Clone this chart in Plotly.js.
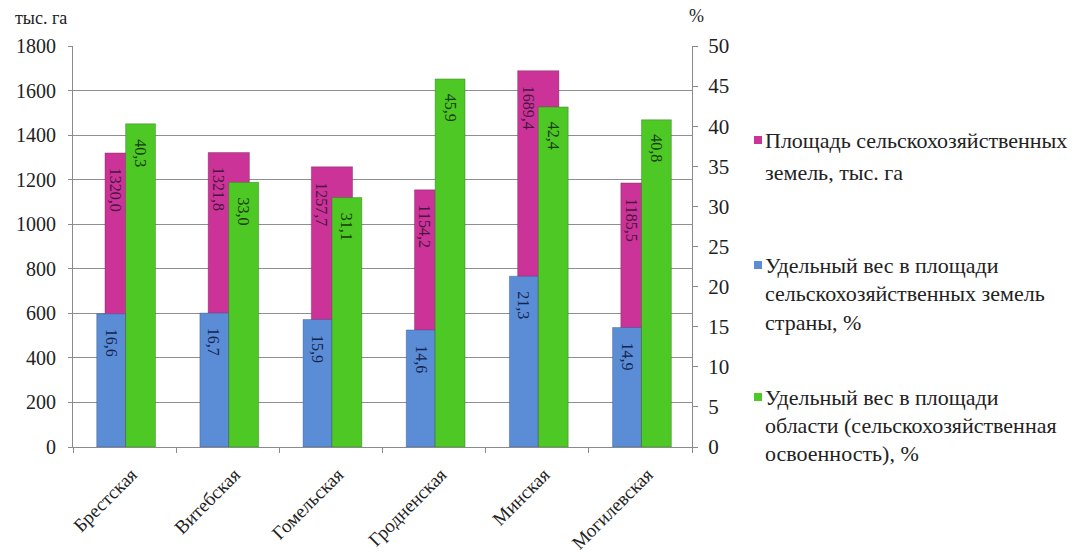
<!DOCTYPE html>
<html>
<head>
<meta charset="utf-8">
<script src="https://cdn.plot.ly/plotly-3.0.1.min.js"></script>
<style>
  html, body { margin: 0; padding: 0; background: #fff; }
  #chart { width: 1083px; height: 553px; }
</style>
</head>
<body>
<div id="chart"></div>
<script>
// Regions of Belarus
const categories = ['Брестская', 'Витебская', 'Гомельская', 'Гродненская', 'Минская', 'Могилевская'];
// Agricultural land area, thousand ha (left axis)
const areaThousandHa = [1320.0, 1321.8, 1257.7, 1154.2, 1689.4, 1185.5];
// Share of the country's agricultural land, % (right axis)
const shareCountryPct = [16.6, 16.7, 15.9, 14.6, 21.3, 14.9];
// Share of the region's area (agricultural development), % (right axis)
const shareRegionPct = [40.3, 33.0, 31.1, 45.9, 42.4, 40.8];

const leftTicks = [0, 200, 400, 600, 800, 1000, 1200, 1400, 1600, 1800];
const rightTicks = [0, 5, 10, 15, 20, 25, 30, 35, 40, 45, 50];

const legendLines = [
  ['Площадь сельскохозяйственных', 'земель, тыс. га'],
  ['Удельный вес в площади', 'сельскохозяйственных земель', 'страны, %'],
  ['Удельный вес в площади', 'области (сельскохозяйственная', 'освоенность), %']
];

const FONT = 'Liberation Serif';
const C_AREA = '#CC3399', C_COUNTRY = '#5B8DD6', C_REGION = '#4DC824';
const T_AREA = '#4a1640', T_COUNTRY = '#15244f', T_REGION = '#173d0c';

const fmt = v => v.toFixed(1).replace('.', ',');

// bar placement within each category slot
const AREA_OFF = -0.19, AREA_W = 0.40;
const CTRY_OFF = -0.27, CTRY_W = 0.28;
const REG_OFF = 0.01, REG_W = 0.29;

const traces = [
  {
    type: 'bar', name: legendLines[0].join(' '),
    x: categories, y: areaThousandHa, yaxis: 'y',
    offset: AREA_OFF, width: AREA_W,
    marker: { color: C_AREA, line: { color: 'rgba(90,40,70,0.45)', width: 0.8 } },
    hoverinfo: 'x+y'
  },
  {
    type: 'bar', name: legendLines[1].join(' '),
    x: categories, y: shareCountryPct, yaxis: 'y2',
    offset: CTRY_OFF, width: CTRY_W,
    marker: { color: C_COUNTRY, line: { color: 'rgba(50,70,110,0.45)', width: 0.8 } },
    hoverinfo: 'x+y'
  },
  {
    type: 'bar', name: legendLines[2].join(' '),
    x: categories, y: shareRegionPct, yaxis: 'y2',
    offset: REG_OFF, width: REG_W,
    marker: { color: C_REGION, line: { color: 'rgba(40,100,30,0.45)', width: 0.8 } },
    hoverinfo: 'x+y'
  }
];

const annotations = [];

// value labels, rotated, placed just below the top of each visible bar
function addLabels(values, yref, center, color) {
  values.forEach((v, i) => {
    annotations.push({
      x: i + center, y: v, xref: 'x', yref: yref,
      text: fmt(v), textangle: 90, showarrow: false,
      xanchor: 'center', yanchor: 'top', yshift: -13,
      font: { family: FONT, size: 16, color: color }
    });
  });
}
addLabels(areaThousandHa, 'y', (AREA_OFF + REG_OFF) / 2, T_AREA);
addLabels(shareCountryPct, 'y2', CTRY_OFF + CTRY_W / 2, T_COUNTRY);
addLabels(shareRegionPct, 'y2', REG_OFF + REG_W / 2, T_REGION);

// axis unit captions
annotations.push({
  xref: 'paper', yref: 'paper', x: -0.097, y: 1.07, xanchor: 'left', yanchor: 'middle',
  text: 'тыс. га', showarrow: false, font: { family: FONT, size: 18, color: '#222' }
});
annotations.push({
  xref: 'paper', yref: 'paper', x: 1.008, y: 1.075, xanchor: 'center', yanchor: 'middle',
  text: '%', showarrow: false, font: { family: FONT, size: 18, color: '#222' }
});

// legend
const PLOT_L = 73, PLOT_R = 692, PLOT_T = 46, PLOT_B = 447;
const px2x = px => (px - PLOT_L) / (PLOT_R - PLOT_L);
const px2y = py => (PLOT_B - py) / (PLOT_B - PLOT_T);
const legendColors = [C_AREA, C_COUNTRY, C_REGION];
const legendRows = [[140, 172], [265, 293, 322], [397, 425, 453]];
const shapes = [];
legendLines.forEach((lines, k) => {
  lines.forEach((ln, j) => {
    annotations.push({
      xref: 'paper', yref: 'paper', x: px2x(763), y: px2y(legendRows[k][j]),
      xanchor: 'left', yanchor: 'middle', text: ln, showarrow: false,
      font: { family: FONT, size: 22, color: '#222' }
    });
  });
  const cy = legendRows[k][0];
  shapes.push({
    type: 'rect', xref: 'paper', yref: 'paper',
    x0: px2x(754), x1: px2x(762), y0: px2y(cy + 4), y1: px2y(cy - 4),
    fillcolor: legendColors[k], line: { width: 0 }
  });
});

const layout = {
  width: 1083, height: 553,
  margin: { l: PLOT_L, r: 1083 - PLOT_R, t: PLOT_T, b: 553 - PLOT_B, pad: 0 },
  paper_bgcolor: '#fff', plot_bgcolor: '#fff',
  barmode: 'overlay', showlegend: false,
  separators: ', ',
  font: { family: FONT, size: 20, color: '#222' },
  xaxis: {
    type: 'category', range: [-0.5, 5.5],
    showline: true, linecolor: '#8a8a8a', linewidth: 1,
    ticks: 'outside', tickson: 'boundaries', ticklen: 5, tickcolor: '#8a8a8a',
    tickangle: -45, ticklabelstandoff: 8, ticklabelshift: 7,
    tickfont: { family: FONT, size: 19, color: '#222' },
    showgrid: false, zeroline: false
  },
  yaxis: {
    range: [0, 1800], tickvals: leftTicks, ticktext: leftTicks.map(String),
    showline: true, linecolor: '#8a8a8a', linewidth: 1,
    ticks: 'outside', ticklen: 4, tickcolor: '#8a8a8a',
    ticklabelstandoff: 8,
    showgrid: true, gridcolor: '#8f8f8f', gridwidth: 1, zeroline: false,
    tickfont: { family: FONT, size: 20, color: '#222' }
  },
  yaxis2: {
    range: [0, 50], tickvals: rightTicks, ticktext: rightTicks.map(String),
    overlaying: 'y', side: 'right',
    showline: true, linecolor: '#8a8a8a', linewidth: 1,
    ticks: 'outside', ticklen: 5, tickcolor: '#8a8a8a',
    ticklabelstandoff: 6,
    showgrid: false, zeroline: false,
    tickfont: { family: FONT, size: 21, color: '#222' }
  },
  annotations: annotations,
  shapes: shapes
};

Plotly.newPlot('chart', traces, layout, { displayModeBar: false, staticPlot: true });
</script>
</body>
</html>
